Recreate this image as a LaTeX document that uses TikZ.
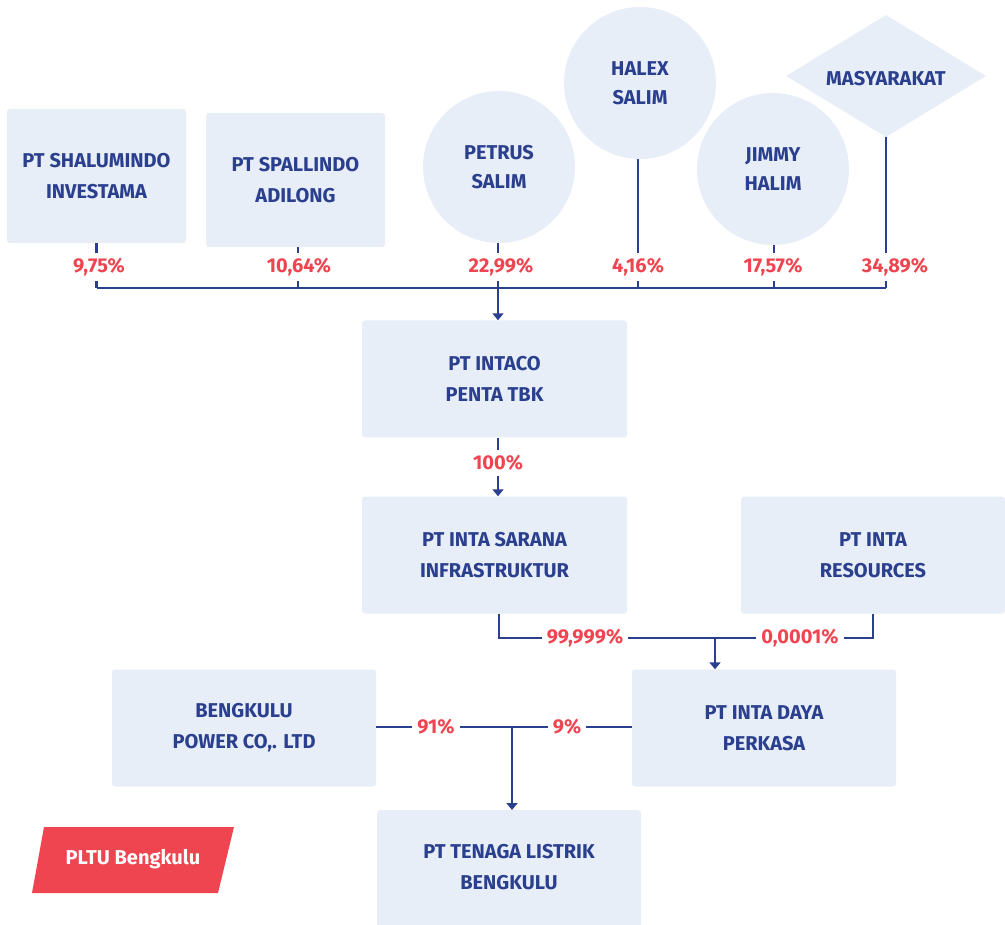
\documentclass[tikz,border=0pt]{standalone}
\usepackage{fontspec}
\setmainfont{Fira Sans}
\usetikzlibrary{arrows.meta,shapes.geometric}
\definecolor{boxfill}{HTML}{E8EEF8}
\definecolor{navy}{HTML}{2A3F8E}
\definecolor{pctred}{HTML}{EF4550}
\tikzset{
  ent/.style={fill=boxfill, rounded corners=3pt, text=navy, align=center,
    font=\fontsize{20}{31}\selectfont\bfseries, inner sep=0pt},
  person/.style={circle, fill=boxfill, text=navy, align=center,
    font=\fontsize{20}{29}\selectfont\bfseries, minimum size=152pt, inner sep=0pt},
  pub/.style={diamond, fill=boxfill, text=navy, align=center,
    font=\fontsize{20}{29}\selectfont\bfseries, minimum width=200pt, minimum height=122pt, inner sep=0pt},
  pct/.style={fill=white, text=pctred, font=\fontsize{20}{22}\selectfont\bfseries, inner sep=5pt},
  link/.style={draw=navy, line width=2.9pt},
  arr/.style={link, -{Triangle[width=11pt,length=7pt]}},
}
\begin{document}
\begin{tikzpicture}[x=1pt,y=-1pt]
\useasboundingbox (0,0) rectangle (1005,925);
% top owners
\node[ent, minimum width=179pt, minimum height=134pt] (shal) at (96.5,176) {PT SHALUMINDO\\INVESTAMA};
\node[ent, minimum width=179pt, minimum height=134pt] (spal) at (295.5,180) {PT SPALLINDO\\ADILONG};
\node[person] (petrus) at (499,167) {PETRUS\\SALIM};
\node[person] (halex) at (640,83) {HALEX\\SALIM};
\node[person] (jimmy) at (773,169) {JIMMY\\HALIM};
\node[pub] (masy) at (886,76) {};
\node[text=navy, font=\fontsize{20}{29}\selectfont\bfseries] (masytext) at (886,79) {MASYARAKAT};
% lower entities
\node[ent, minimum width=265pt, minimum height=117pt] (intaco) at (494.5,379) {PT INTACO\\PENTA TBK};
\node[ent, minimum width=265pt, minimum height=117pt] (sarana) at (494.5,555) {PT INTA SARANA\\INFRASTRUKTUR};
\node[ent, minimum width=264pt, minimum height=117pt] (resources) at (873,555) {PT INTA\\RESOURCES};
\node[ent, minimum width=264pt, minimum height=117pt] (daya) at (764,728) {PT INTA DAYA\\PERKASA};
\node[ent, minimum width=264pt, minimum height=117pt] (bpower) at (244,728) {BENGKULU\\POWER CO,. LTD};
\node[ent, minimum width=264pt, minimum height=130pt, anchor=north] (tenaga) at (509,810) {};
\node[text=navy, align=center, font=\fontsize{20}{31}\selectfont\bfseries] (tenagatext) at (509,867) {PT TENAGA LISTRIK\\BENGKULU};
% coordinates
\coordinate (bus) at (498,288);
\coordinate (join2) at (715,638);
\coordinate (join3) at (512,727);
% top connectors
\draw[link] (shal.south) -- (shal.south |- bus);
\draw[link] (spal.south -| 298,0) -- (298,288);
\draw[link] (petrus.south -| bus) -- (bus);
\draw[link] (halex.south -| 638,0) -- (638,288);
\draw[link] (jimmy.south -| 774,0) -- (774,288);
\draw[link] (masy.south) -- (masy.south |- bus);
\draw[link] (shal.south |- bus) -- (masy.south |- bus);
\draw[arr] (bus) -- (bus |- intaco.north);
\node[pct] (p1) at (99,267) {9,75\%};
\node[pct] (p2) at (299,267) {10,64\%};
\node[pct] (p3) at (501,267) {22,99\%};
\node[pct] (p4) at (638,267) {4,16\%};
\node[pct] (p5) at (773,267) {17,57\%};
\node[pct] (p6) at (895,267) {34,89\%};
% intaco -> sarana
\draw[arr] (intaco.south -| bus) -- (sarana.north -| bus);
\node[pct] (p7) at (498,463) {100\%};
% sarana/resources -> daya
\draw[link] (sarana.south -| 499,0) |- (join2) -| (resources.south);
\draw[arr] (join2) -- (join2 |- daya.north);
\node[pct] (p8) at (585,638) {99,999\%};
\node[pct] (p9) at (800,638) {0,0001\%};
% bpower/daya -> tenaga
\draw[link] (bpower.east |- join3) -- (daya.west |- join3);
\draw[arr] (join3) -- (join3 |- tenaga.north);
\node[pct] (p10) at (436,727) {91\%};
\node[pct] (p11) at (567,727) {9\%};
% tag
\fill[pctred] (44,827) -- (234,827) -- (218,893) -- (32,893) -- cycle;
\node[text=white, font=\fontsize{20}{22}\selectfont\bfseries] (tag) at (133,859) {PLTU Bengkulu};
\end{tikzpicture}
\end{document}
